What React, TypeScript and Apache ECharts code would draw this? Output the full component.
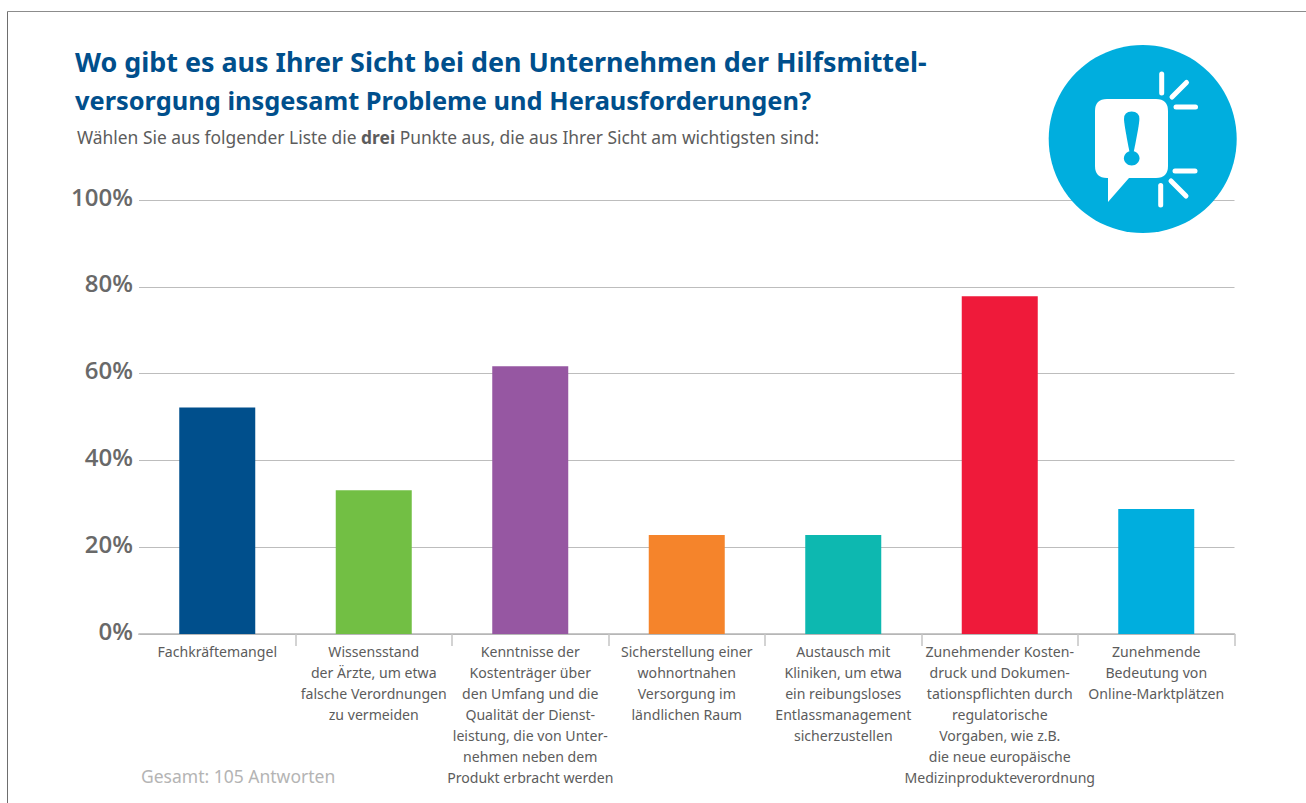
import React, { useEffect, useRef } from "react";
import * as echarts from "echarts";

const categories = [
  "Fachkräftemangel",
  "Wissensstand\nder Ärzte, um etwa\nfalsche Verordnungen\nzu vermeiden",
  "Kenntnisse der\nKostenträger über\nden Umfang und die\nQualität der Dienst-\nleistung, die von Unter-\nnehmen neben dem\nProdukt erbracht werden",
  "Sicherstellung einer\nwohnortnahen\nVersorgung im\nländlichen Raum",
  "Austausch mit\nKliniken, um etwa\nein reibungsloses\nEntlassmanagement\nsicherzustellen",
  "Zunehmender Kosten-\ndruck und Dokumen-\ntationspflichten durch\nregulatorische\nVorgaben, wie z.B.\ndie neue europäische\nMedizinprodukteverordnung",
  "Zunehmende\nBedeutung von\nOnline-Marktplätzen",
];
const values = [52.2, 33.1, 61.7, 22.8, 22.8, 77.8, 28.8];
const barColors = ["#004f8c", "#72bf44", "#9657a2", "#f5842b", "#0db8b0", "#ef1a3a", "#00aede"];
const titleLine1 = "Wo gibt es aus Ihrer Sicht bei den Unternehmen der Hilfsmittel-";
const titleLine2 = "versorgung insgesamt Probleme und Herausforderungen?";
const footnote = "Gesamt: 105 Antworten";

echarts.graphic.registerShape(
  "bubble",
  echarts.graphic.extendPath(
    "M1107,99 L1156,99 Q1168,99 1168,111 L1168,166 Q1168,178 1156,178 L1129,178 L1108,202 L1108,178 L1107,178 Q1095,178 1095,166 L1095,111 Q1095,99 1107,99 Z",
    {}
  )
);
echarts.graphic.registerShape(
  "bang",
  echarts.graphic.extendPath(
    "M1131.6,111.5 Q1124,111.5 1124,119 Q1124,124 1129.5,152 Q1130,154 1131.6,154 Q1133.2,154 1133.7,152 Q1139.4,124 1139.4,119 Q1139.4,111.5 1131.6,111.5 Z",
    {}
  )
);

const ray = (x1: number, y1: number, x2: number, y2: number) => ({
  type: "line",
  z: 21,
  shape: { x1, y1, x2, y2 },
  style: { stroke: "#ffffff", lineWidth: 5, lineCap: "round" },
});

export default function App() {
  const ref = useRef<HTMLDivElement>(null);
  useEffect(() => {
    const chart = echarts.init(ref.current!, undefined, { renderer: "svg" });
    chart.setOption({
      animation: false,
      backgroundColor: "#ffffff",
      title: {
        text: `{a|${titleLine1}}\n{b|${titleLine2}}`,
        left: 70,
        top: 37,
        textStyle: {
          rich: {
            a: { fontFamily: "Noto Sans", fontSize: 26.9, fontWeight: "bold", color: "#004f8c", lineHeight: 39 },
            b: { fontFamily: "Noto Sans", fontSize: 25.4, fontWeight: "bold", color: "#004f8c", lineHeight: 38 },
          },
        },
      },
      grid: { left: 139, width: 1095.5, top: 200, height: 434, containLabel: false },
      xAxis: {
        type: "category",
        data: categories,
        axisLine: { lineStyle: { color: "#b5b5b5", width: 1.5 } },
        axisTick: {
          show: true,
          length: 12,
          lineStyle: { color: "#c4c4c4", width: 1.5 },
        },
        axisLabel: {
          interval: 0,
          margin: 7,
          fontFamily: "Noto Sans",
          fontSize: 14.1,
          lineHeight: 21,
          color: "#5c5c5c",
        },
      },
      yAxis: {
        type: "value",
        min: 0,
        max: 100,
        interval: 20,
        axisLine: { show: false },
        axisTick: { show: false },
        splitLine: { lineStyle: { color: "#bdbdbd", width: 1 } },
        axisLabel: {
          formatter: "{value}%",
          margin: 6,
          verticalAlign: "bottom",
          lineHeight: 8,
          fontFamily: "Open Sans",
          fontSize: 24,
          fontWeight: 600,
          color: "#696969",
        },
      },
      series: [
        {
          type: "bar",
          barWidth: 76,
          data: values.map((value, i) => ({ value, itemStyle: { color: barColors[i] } })),
        },
      ],
      graphic: [
        { type: "rect", z: 20, shape: { x: 136, y: 635, width: 6, height: 14 }, style: { fill: "#ffffff" } },
        { type: "line", z: 19, shape: { x1: 7.5, y1: 11.5, x2: 1306, y2: 11.5 }, style: { stroke: "#8c8c8c", lineWidth: 1 } },
        { type: "line", z: 19, shape: { x1: 7.5, y1: 11.5, x2: 7.5, y2: 803 }, style: { stroke: "#6e6e6e", lineWidth: 1 } },
        {
          type: "text",
          x: 77,
          y: 128,
          style: {
            text: "{a|Wählen Sie aus folgender Liste die }{b|drei}{a| Punkte aus, die aus Ihrer Sicht am wichtigsten sind:}",
            rich: {
              a: { fontFamily: "Noto Sans", fontSize: 17.4, fill: "#5c5c5c" },
              b: { fontFamily: "Noto Sans", fontSize: 17.4, fontWeight: "bold", fill: "#5c5c5c" },
            },
          },
        },
        {
          type: "text",
          x: 141,
          y: 767,
          style: { text: footnote, fontFamily: "Noto Sans", fontSize: 17.5, fill: "#b4b4b4" },
        },
        { type: "circle", z: 20, shape: { cx: 1142.7, cy: 139, r: 94 }, style: { fill: "#00aede" } },
        { type: "bubble", z: 21, style: { fill: "#ffffff" } },
        { type: "bang", z: 22, style: { fill: "#00aede" } },
        { type: "ellipse", z: 22, shape: { cx: 1131.7, cy: 158.3, rx: 7.8, ry: 7.2 }, style: { fill: "#00aede" } },
        ray(1161.7, 74, 1161.7, 93),
        ray(1172, 97, 1186.5, 82.5),
        ray(1176, 107, 1195.5, 107),
        ray(1175, 171, 1195, 171),
        ray(1171, 181, 1186, 196),
        ray(1160.7, 185.5, 1160.7, 205),
      ],
    });
    return () => chart.dispose();
  }, []);
  return <div ref={ref} style={{ position: "absolute", left: 0, top: 0, width: 1306, height: 803 }} />;
}
